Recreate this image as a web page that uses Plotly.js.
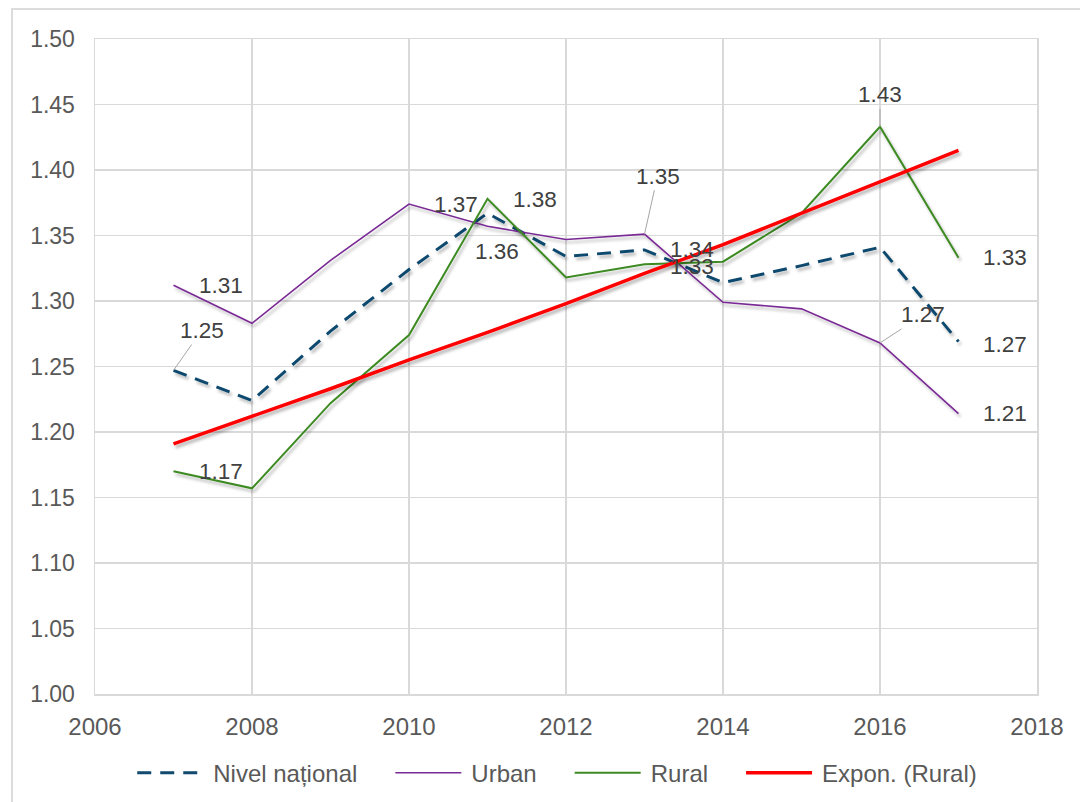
<!DOCTYPE html>
<html>
<head>
<meta charset="utf-8">
<script src="https://cdn.plot.ly/plotly-3.0.1.min.js"></script>
<style>
  html, body { margin: 0; padding: 0; background: #fff; }
  #chart { width: 1080px; height: 802px; position: absolute; left: 0; top: 0; }
  #frame { position: absolute; left: 11px; top: 8px; width: 1200px; height: 900px;
           border-top: 2px solid #dcdcdc; border-left: 2px solid #dcdcdc; pointer-events: none; }
</style>
</head>
<body>
<div id="chart"></div>
<div id="frame"></div>
<script>
// ---- data ----
const years    = [2007, 2008, 2009, 2010, 2011, 2012, 2013, 2014, 2015, 2016, 2017];
const national = [1.247, 1.224, 1.277, 1.324, 1.367, 1.334, 1.339, 1.314, 1.327, 1.341, 1.269];
const urban    = [1.312, 1.283, 1.331, 1.374, 1.357, 1.347, 1.351, 1.299, 1.294, 1.268, 1.214];
const rural    = [1.170, 1.157, 1.222, 1.274, 1.378, 1.318, 1.328, 1.330, 1.367, 1.433, 1.333];
const ruralTrend = [1.191, 1.212, 1.233, 1.255, 1.276, 1.298, 1.321, 1.343, 1.367, 1.391, 1.415];
const seriesNames = ['Nivel național', 'Urban', 'Rural', 'Expon. (Rural)'];
const xTicks = [2006, 2008, 2010, 2012, 2014, 2016, 2018];
const yTicks = [1.00, 1.05, 1.10, 1.15, 1.20, 1.25, 1.30, 1.35, 1.40, 1.45, 1.50];

const FONT = 'Liberation Sans, Arial, sans-serif';

const traces = [
  { x: years, y: national, name: seriesNames[0], type: 'scatter', mode: 'lines',
    line: { color: '#114a6e', width: 3, dash: '14px,9px' } },
  { x: years, y: urban, name: seriesNames[1], type: 'scatter', mode: 'lines',
    line: { color: '#7a2a95', width: 1.6 } },
  { x: years, y: rural, name: seriesNames[2], type: 'scatter', mode: 'lines',
    line: { color: '#3d8a24', width: 2 } },
  { x: years, y: ruralTrend, name: seriesNames[3], type: 'scatter', mode: 'lines',
    line: { color: '#ff0000', width: 3.5 } }
];

const labelFont = { family: FONT, size: 22.5, color: '#404040' };
function plain(arr, i, xs, ys) {
  return { x: years[i], y: arr[i], text: arr[i].toFixed(2), showarrow: false,
           xshift: xs, yshift: ys, font: labelFont };
}
function lead(arr, i, ax, ay) {
  return { x: years[i], y: arr[i], text: arr[i].toFixed(2), showarrow: true,
           ax: ax, ay: ay, arrowhead: 0, arrowwidth: 1, arrowcolor: '#a6a6a6',
           standoff: 0, startstandoff: 0, font: labelFont };
}
const annotations = [
  lead(national, 0, 28, -40),
  plain(urban, 0, 47, 0),
  plain(rural, 0, 47, 0),
  plain(urban, 3, 47, 0),
  plain(rural, 4, 47, -1),
  plain(urban, 4, 9, -25),
  lead(urban, 6, 13, -58),
  plain(national, 6, 47, 0),
  plain(rural, 6, 47, -2),
  lead(rural, 9, 0, -32),
  lead(urban, 9, 43, -28),
  plain(rural, 10, 46, 0),
  plain(national, 10, 46, -3),
  plain(urban, 10, 46, 0)
];

const layout = {
  width: 1080, height: 802,
  margin: { l: 95, r: 43, t: 39, b: 108 },
  paper_bgcolor: 'rgba(0,0,0,0)', plot_bgcolor: '#ffffff',
  showlegend: true,
  legend: { orientation: 'h', xref: 'container', yref: 'container',
            x: 0.503, xanchor: 'center', y: 0.036, yanchor: 'middle',
            font: { family: FONT, size: 24, color: '#595959' }, itemwidth: 99,
            traceorder: 'normal' },
  xaxis: { range: [2006, 2018], tickmode: 'array', tickvals: xTicks,
           ticktext: xTicks.map(String), showgrid: true, gridcolor: '#d9d9d9', gridwidth: 1.5,
           showline: true, linecolor: '#d9d9d9', linewidth: 1.5, mirror: true,
           zeroline: false, ticks: '', ticklabelstandoff: 11, automargin: false,
           tickfont: { family: FONT, size: 24, color: '#595959' } },
  yaxis: { range: [1.0, 1.5], tickmode: 'array', tickvals: yTicks,
           ticktext: yTicks.map(v => v.toFixed(2)), showgrid: true, gridcolor: '#d9d9d9', gridwidth: 1.5,
           showline: true, linecolor: '#d9d9d9', linewidth: 1.5, mirror: true,
           zeroline: false, ticks: '', ticklabelstandoff: 14, automargin: false,
           tickfont: { family: FONT, size: 23, color: '#595959' } },
  annotations: annotations
};

Plotly.newPlot('chart', traces, layout, { staticPlot: true, displayModeBar: false }).then(gd => {
  const svg = gd.querySelector('.main-svg');
  const NS = 'http://www.w3.org/2000/svg';
  let defs = svg.querySelector('defs');
  if (!defs) { defs = document.createElementNS(NS, 'defs'); svg.insertBefore(defs, svg.firstChild); }
  const f = document.createElementNS(NS, 'filter');
  f.setAttribute('id', 'lineShadow');
  f.setAttribute('x', '-10%'); f.setAttribute('y', '-10%');
  f.setAttribute('width', '120%'); f.setAttribute('height', '130%');
  const ds = document.createElementNS(NS, 'feDropShadow');
  ds.setAttribute('dx', '2'); ds.setAttribute('dy', '3'); ds.setAttribute('stdDeviation', '1.8');
  ds.setAttribute('flood-color', '#000'); ds.setAttribute('flood-opacity', '0.28');
  f.appendChild(ds); defs.appendChild(f);
  gd.querySelectorAll('.scatterlayer .trace path.js-line').forEach(p => p.setAttribute('filter', 'url(#lineShadow)'));
  // longer legend line samples placed just before each legend text, like the original
  gd.querySelectorAll('.legend .traces').forEach(t => {
    const txt = t.querySelector('text.legendtext');
    const tx = txt ? parseFloat(txt.getAttribute('x')) : 103;
    t.querySelectorAll('.legendlines path').forEach(p => p.setAttribute('d', 'M' + (tx - 76) + ',0h66'));
  });
});
</script>
</body>
</html>
